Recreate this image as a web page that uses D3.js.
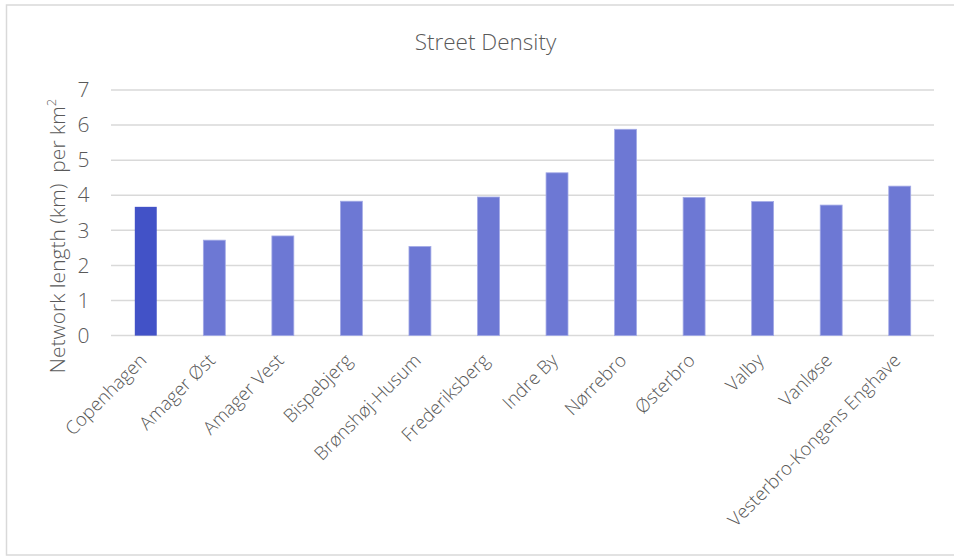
<!DOCTYPE html>
<html>
<head>
<meta charset="utf-8">
<script src="https://cdn.jsdelivr.net/npm/d3@7"></script>
<style>
  html, body { margin: 0; padding: 0; background: #fff; }
  svg { display: block; font-family: "Open Sans", "Segoe UI", sans-serif; }
</style>
</head>
<body>
<svg id="chart" width="954" height="556"></svg>
<script>
// Street density per district
const districts = ["Copenhagen", "Amager Øst", "Amager Vest", "Bispebjerg", "Brønshøj-Husum",
  "Frederiksberg", "Indre By", "Nørrebro", "Østerbro", "Valby", "Vanløse", "Vesterbro-Kongens Enghave"];
const density = [3.67, 2.72, 2.84, 3.83, 2.54, 3.95, 4.64, 5.88, 3.94, 3.82, 3.72, 4.26];
const yTicks = [0, 1, 2, 3, 4, 5, 6, 7];

const svg = d3.select("#chart");
const textColor = "#595959";

// outer frame
svg.append("rect")
  .attr("x", 6.5).attr("y", 5).attr("width", 960).attr("height", 550)
  .attr("fill", "#fff").attr("stroke", "#d9d9d9").attr("stroke-width", 1.5);

const x = d3.scaleBand()
  .domain(districts)
  .range([111.5, 934])
  .paddingInner(0.68)
  .paddingOuter(0.34);

const y = d3.scaleLinear().domain([0, 7]).range([335.6, 90]);

// gridlines
svg.append("g")
  .selectAll("line")
  .data(yTicks)
  .join("line")
  .attr("x1", 111).attr("x2", 934)
  .attr("y1", d => y(d)).attr("y2", d => y(d))
  .attr("stroke", "#d9d9d9").attr("stroke-width", 1.5);

// y axis labels
const yAxis = d3.axisLeft(y).tickValues(yTicks).tickSize(0).tickPadding(0).tickFormat(d3.format("d"));
const gy = svg.append("g").attr("transform", "translate(89.5,0)").call(yAxis);
gy.select(".domain").remove();
gy.selectAll("text")
  .attr("fill", textColor)
  .attr("font-size", 21)
  .attr("font-weight", 300)
  .style("font-family", "'Open Sans', sans-serif");

// bars
svg.append("g")
  .selectAll("rect")
  .data(districts)
  .join("rect")
  .attr("x", d => x(d))
  .attr("width", x.bandwidth())
  .attr("y", (d, i) => y(density[i]))
  .attr("height", (d, i) => y(0) - y(density[i]))
  .attr("fill", (d, i) => i === 0 ? "#4252c7" : "#6d78d4")
  .attr("stroke", (d, i) => i === 0 ? "none" : "#a3aae6")
  .attr("stroke-width", 0.8);

// x axis labels, rotated
const xAxis = d3.axisBottom(x).tickSize(0).tickPadding(0);
const gx = svg.append("g").attr("transform", "translate(0,335.6)").call(xAxis);
gx.select(".domain").remove();
gx.selectAll("text")
  .attr("fill", textColor)
  .attr("font-size", 18.5)
  .attr("font-weight", 300)
  .style("font-family", "'Open Sans', sans-serif")
  .attr("text-anchor", "end")
  .attr("dy", null)
  .attr("y", 0)
  .attr("transform", "translate(2,26) rotate(-45)");

// title
svg.append("text")
  .attr("x", 485.5).attr("y", 50)
  .attr("text-anchor", "middle")
  .attr("fill", textColor)
  .attr("font-size", 22.5)
  .attr("font-weight", 300)
  .text("Street Density");

// y axis title
const yt = svg.append("text")
  .attr("transform", "translate(65,236) rotate(-90)")
  .attr("text-anchor", "middle")
  .attr("fill", textColor)
  .attr("font-size", 21)
  .attr("font-weight", 300);
yt.append("tspan").text("Network length (km)\u00a0 per km");
yt.append("tspan").attr("font-size", 13).attr("dy", -9).text("2");
</script>
</body>
</html>
